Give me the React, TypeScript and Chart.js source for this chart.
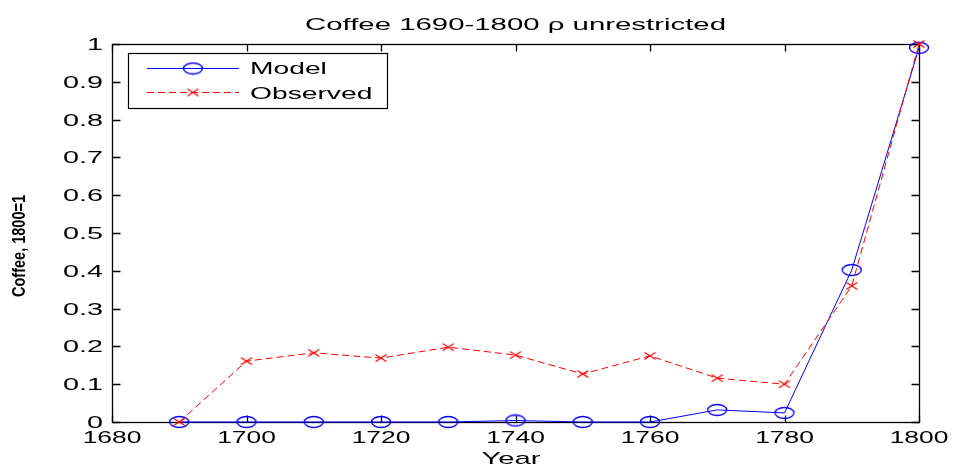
import { useEffect, useRef } from 'react';
import { Chart, registerables } from 'chart.js';

Chart.register(...registerables);

const years = [1690, 1700, 1710, 1720, 1730, 1740, 1750, 1760, 1770, 1780, 1790, 1800];
const modelValues = [0, 0, 0, 0, 0, 0.004, 0, 0, 0.032, 0.024, 0.402, 0.99];
const observedValues = [0, 0.161, 0.183, 0.169, 0.198, 0.177, 0.127, 0.175, 0.116, 0.1, 0.36, 1.0];
const xTickLabels = ['1680', '1700', '1720', '1740', '1760', '1780', '1800'];
const yTickLabels = ['0', '0.1', '0.2', '0.3', '0.4', '0.5', '0.6', '0.7', '0.8', '0.9', '1'];
const titleText = 'Coffee 1690-1800 \u03C1 unrestricted';
const xTitle = 'Year';
const yTitle = 'Coffee, 1800=1';
const seriesNames = ['Model', 'Observed'];

const FONT = '"Liberation Sans", Arial, sans-serif';

function drawText(
  ctx: CanvasRenderingContext2D,
  text: string,
  x: number,
  y: number,
  font: string,
  sx: number,
  align: 'left' | 'center' | 'right',
  baseline: CanvasTextBaseline,
  fitWidth?: number
) {
  ctx.save();
  ctx.font = font;
  ctx.textAlign = 'left';
  ctx.textBaseline = baseline;
  const nat = ctx.measureText(text).width;
  const s = fitWidth ? fitWidth / nat : sx;
  const w = nat * s;
  const left = align === 'left' ? x : align === 'center' ? x - w / 2 : x - w;
  ctx.translate(left, y);
  ctx.scale(s, 1);
  ctx.fillStyle = '#000';
  ctx.fillText(text, 0, 0);
  ctx.restore();
}

function makeEllipse(): HTMLCanvasElement {
  const c = document.createElement('canvas');
  c.width = 22;
  c.height = 14;
  const g = c.getContext('2d')!;
  g.strokeStyle = '#0000ff';
  g.lineWidth = 1.3;
  g.beginPath();
  g.ellipse(11, 7, 9.5, 5.5, 0, 0, Math.PI * 2);
  g.stroke();
  return c;
}

function makeCross(): HTMLCanvasElement {
  const c = document.createElement('canvas');
  c.width = 14;
  c.height = 10;
  const g = c.getContext('2d')!;
  g.strokeStyle = '#ff0000';
  g.lineWidth = 1.3;
  g.beginPath();
  g.moveTo(1.5, 1.5);
  g.lineTo(12.5, 8.5);
  g.moveTo(1.5, 8.5);
  g.lineTo(12.5, 1.5);
  g.stroke();
  return c;
}

export default function App() {
  const ref = useRef<HTMLCanvasElement>(null);

  useEffect(() => {
    document.body.style.margin = '0';
    const ellipse = makeEllipse();
    const cross = makeCross();

    const axesPlugin = {
      id: 'matlabAxes',
      beforeDatasetsDraw(chart: any) {
        const ctx: CanvasRenderingContext2D = chart.ctx;
        const a = chart.chartArea;
        const xs = chart.scales.x;
        const ys = chart.scales.y;
        ctx.save();
        ctx.strokeStyle = '#000';
        ctx.lineWidth = 1.3;
        const L = Math.round(a.left) + 0.5;
        const R = Math.round(a.right) + 0.5;
        const T = Math.round(a.top) + 0.5;
        const B = Math.round(a.bottom) + 0.5;
        ctx.strokeRect(L, T, R - L, B - T);
        ctx.beginPath();
        for (const lab of xTickLabels) {
          const px = Math.round(xs.getPixelForValue(Number(lab))) + 0.5;
          ctx.moveTo(px, B);
          ctx.lineTo(px, B - 7);
          ctx.moveTo(px, T);
          ctx.lineTo(px, T + 7);
        }
        for (const lab of yTickLabels) {
          const py = Math.round(ys.getPixelForValue(Number(lab))) + 0.5;
          ctx.moveTo(L, py);
          ctx.lineTo(L + 8, py);
          ctx.moveTo(R, py);
          ctx.lineTo(R - 8, py);
        }
        ctx.stroke();
        ctx.restore();

        for (const lab of xTickLabels) {
          const px = xs.getPixelForValue(Number(lab));
          drawText(ctx, lab, px, 443, `16px ${FONT}`, 1.65, 'center', 'alphabetic');
        }
        for (const lab of yTickLabels) {
          const py = ys.getPixelForValue(Number(lab));
          drawText(ctx, lab, 103, py + 6, `16px ${FONT}`, 1.8, 'right', 'alphabetic');
        }
        drawText(ctx, titleText, (a.left + a.right) / 2, 30, `17px ${FONT}`, 1, 'center', 'alphabetic', 421);
        drawText(ctx, xTitle, 511, 464, `17px ${FONT}`, 1.72, 'center', 'alphabetic');
        ctx.save();
        ctx.translate(25, 246);
        ctx.rotate(-Math.PI / 2);
        drawText(ctx, yTitle, 0, 0, `bold 18px ${FONT}`, 1, 'center', 'alphabetic', 102);
        ctx.restore();
      },
      afterDatasetsDraw(chart: any) {
        const ctx: CanvasRenderingContext2D = chart.ctx;
        ctx.save();
        ctx.fillStyle = '#fff';
        ctx.fillRect(128.5, 53.5, 259, 55);
        ctx.strokeStyle = '#000';
        ctx.lineWidth = 1.2;
        ctx.strokeRect(128.5, 53.5, 259, 55);
        ctx.strokeStyle = '#0000ff';
        ctx.lineWidth = 1;
        ctx.setLineDash([]);
        ctx.beginPath();
        ctx.moveTo(147, 68.5);
        ctx.lineTo(239, 68.5);
        ctx.stroke();
        ctx.drawImage(ellipse, 193 - ellipse.width / 2, 68.5 - ellipse.height / 2);
        ctx.strokeStyle = '#ff0000';
        ctx.setLineDash([7, 4]);
        ctx.beginPath();
        ctx.moveTo(147, 92.5);
        ctx.lineTo(239, 92.5);
        ctx.stroke();
        ctx.setLineDash([]);
        ctx.drawImage(cross, 193 - cross.width / 2, 92.5 - cross.height / 2);
        ctx.restore();
        drawText(ctx, seriesNames[0], 250, 74, `17px ${FONT}`, 1.66, 'left', 'alphabetic');
        drawText(ctx, seriesNames[1], 250, 99, `17px ${FONT}`, 1.66, 'left', 'alphabetic');
      },
    };

    const chart = new Chart(ref.current!, {
      type: 'line',
      data: {
        datasets: [
          {
            label: seriesNames[1],
            data: years.map((x, i) => ({ x, y: observedValues[i] })),
            borderColor: '#ff0000',
            borderWidth: 1,
            borderDash: [7, 4],
            pointStyle: cross as any,
            pointRadius: 5,
            tension: 0,
            clip: false as any,
          },
          {
            label: seriesNames[0],
            data: years.map((x, i) => ({ x, y: modelValues[i] })),
            borderColor: '#0000ff',
            borderWidth: 1,
            pointStyle: ellipse as any,
            pointRadius: 5,
            tension: 0,
            clip: false as any,
          },
        ],
      },
      options: {
        responsive: false,
        animation: false,
        devicePixelRatio: 1,
        layout: { padding: { top: 44, right: 34, left: 0, bottom: 0 } },
        plugins: {
          legend: { display: false },
          tooltip: { enabled: false },
          title: { display: false },
        },
        events: [],
        scales: {
          x: {
            type: 'linear',
            min: 1680,
            max: 1800,
            ticks: { display: false, stepSize: 20 },
            grid: { display: false },
            border: { display: false },
            afterFit: (s: any) => {
              s.height = 44;
            },
          },
          y: {
            type: 'linear',
            min: 0,
            max: 1,
            ticks: { display: false, stepSize: 0.1 },
            grid: { display: false },
            border: { display: false },
            afterFit: (s: any) => {
              s.width = 112;
            },
          },
        },
      },
      plugins: [axesPlugin],
    } as any);

    return () => chart.destroy();
  }, []);

  return (
    <div style={{ position: 'absolute', left: 0, top: 0, width: 953, height: 466, background: '#fff' }}>
      <canvas ref={ref} width={953} height={466} style={{ display: 'block', width: 953, height: 466 }} />
    </div>
  );
}
